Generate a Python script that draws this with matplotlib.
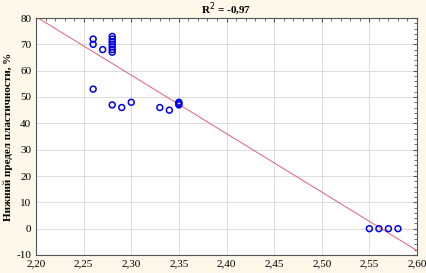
import numpy as np
import matplotlib.pyplot as plt
from matplotlib.ticker import MultipleLocator, FormatStrFormatter, FuncFormatter

plt.rc('font', family='serif', serif=['Liberation Serif', 'DejaVu Serif'], size=8)

# density, g/cm3
x_vals = [2.26, 2.26, 2.26,
          2.27,
          2.28, 2.28, 2.28, 2.28, 2.28, 2.28, 2.28, 2.28,
          2.29, 2.30, 2.33, 2.34,
          2.35, 2.35, 2.35,
          2.55, 2.56, 2.57, 2.58]
# lower plastic limit, %
y_vals = [72, 70, 53,
          68,
          73, 72, 71, 70, 69, 68, 67, 47,
          46, 48, 46, 45,
          48, 47.5, 47,
          0, 0, 0, 0]

TITLE = 'R$^2$ = -0,97'
YLABEL = 'Нижний предел пластичности, %'

BG = '#fdf8e9'

fig = plt.figure(figsize=(4.26, 2.73), dpi=100, facecolor=BG)
ax = fig.add_axes([36 / 426, 18 / 273, 381 / 426, 237 / 273])
ax.set_facecolor('white')

x = np.array(x_vals)
y = np.array(y_vals)
k, b = np.polyfit(x, y, 1)
xl = np.array([2.20, 2.60])
ax.plot(xl, k * xl + b, color='#e06070', lw=0.7, zorder=2)

ax.scatter(x, y, s=18, facecolors='none', edgecolors='#0000ee', linewidths=1.1, zorder=3)

ax.set_xlim(2.20, 2.60)
ax.set_ylim(-10, 80)
ax.xaxis.set_major_locator(MultipleLocator(0.05))
ax.yaxis.set_major_locator(MultipleLocator(10))
ax.xaxis.set_minor_locator(MultipleLocator(0.01))
ax.yaxis.set_minor_locator(MultipleLocator(2))
ax.xaxis.set_major_formatter(FuncFormatter(lambda v, p: f'{v:.2f}'.replace('.', ',')))
ax.yaxis.set_major_formatter(FormatStrFormatter('%d'))

ax.grid(True, which='major', color='#d8d8d8', lw=0.6)
ax.tick_params(which='both', direction='in', top=True, right=True, colors='#555555',
               labelcolor='black', labelsize=8)
ax.tick_params(which='major', length=3)
ax.tick_params(which='minor', length=2)
ax.tick_params(axis='x', which='both', top=True, bottom=False, pad=3)
ax.tick_params(axis='y', which='both', left=False, right=True)
for s in ax.spines.values():
    s.set_color('#555555')
    s.set_linewidth(0.8)

ax.set_title(TITLE, fontweight='bold', fontsize=8, pad=3)
ax.set_ylabel(YLABEL, fontweight='bold', fontsize=8, labelpad=2)

fig.savefig('out.png', dpi=100, facecolor=BG)
